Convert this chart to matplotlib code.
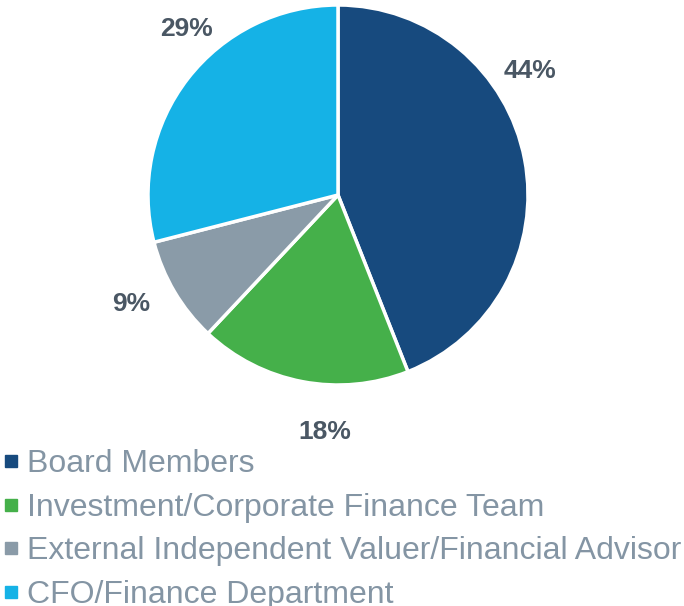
import matplotlib
matplotlib.use("Agg")
import matplotlib.pyplot as plt
from matplotlib.lines import Line2D

categories = [
    "Board Members",
    "Investment/Corporate Finance Team",
    "External Independent Valuer/Financial Advisor",
    "CFO/Finance Department",
]
shares = [44, 18, 9, 29]
colors = ["#174a7e", "#45b04a", "#8a9ba8", "#15b2e6"]
# label positions in pie units (radius = 1)
label_pos = [(1.01, 0.65), (-0.07, -1.245), (-1.09, -0.575), (-0.795, 0.875)]

plt.rcParams["font.family"] = ["Liberation Sans", "DejaVu Sans"]

fig = plt.figure(figsize=(6.84, 6.06), dpi=100)
ax = fig.add_axes([148 / 684, (606 - 385) / 606, 380 / 684, 380 / 606])
ax.pie(
    shares,
    colors=colors,
    startangle=90,
    counterclock=False,
    radius=1,
    wedgeprops=dict(edgecolor="white", linewidth=2.5),
)
for v, (x, y) in zip(shares, label_pos):
    ax.text(x, y, f"{v}%", ha="center", va="center", fontsize=19,
            fontweight="bold", color="#4a5764")
ax.set_xlim(-1, 1)
ax.set_ylim(-1, 1)
ax.set_aspect("equal")
ax.axis("off")

handles = [Line2D([], [], linestyle="none", marker="s", markersize=8,
                  markerfacecolor=c, markeredgecolor=c) for c in colors]
leg = fig.legend(handles, categories, loc="upper left",
                 bbox_to_anchor=(3 / 684, 1 - 449 / 606), frameon=False,
                 fontsize=23, handlelength=0.5, handletextpad=0.25,
                 labelspacing=0.43, borderaxespad=0, borderpad=0)
for t in leg.get_texts():
    t.set_color("#8495a4")

fig.savefig("out.png", dpi=100)
